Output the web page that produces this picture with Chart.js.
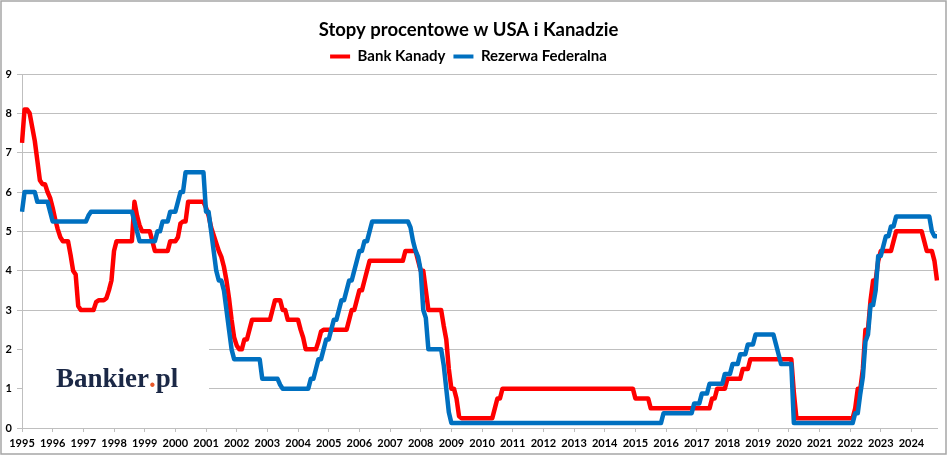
<!DOCTYPE html>
<html>
<head>
<meta charset="utf-8">
<script src="https://cdn.jsdelivr.net/npm/chart.js@4.4.1/dist/chart.umd.min.js"></script>
<style>
  html, body { margin: 0; padding: 0; background: #ffffff; }
  #wrap { width: 948px; height: 456px; position: relative; }
</style>
</head>
<body>
<div id="wrap"><canvas id="chart"></canvas></div>
<script>
// ---- tick labels / categories ----
const years = [1995, 1996, 1997, 1998, 1999, 2000, 2001, 2002, 2003, 2004,
               2005, 2006, 2007, 2008, 2009, 2010, 2011, 2012, 2013, 2014,
               2015, 2016, 2017, 2018, 2019, 2020, 2021, 2022, 2023, 2024];
const monthCodes = ['01','02','03','04','05','06','07','08','09','10','11','12'];
const yTicks = [0, 1, 2, 3, 4, 5, 6, 7, 8, 9];

const seriesNames = ['Bank Kanady', 'Rezerwa Federalna'];

// ---- monthly values, Jan 1995 .. Nov 2024 ----
const bankKanady = [
  7.25, 8.1, 8.1, 8.0, 7.65, 7.3, 6.8, 6.3, 6.2, 6.2, 6.0, 5.85,        // 1995
  5.6, 5.3, 5.05, 4.85, 4.75, 4.75, 4.75, 4.4, 4.0, 3.9, 3.1, 3.0,      // 1996
  3.0, 3.0, 3.0, 3.0, 3.0, 3.2, 3.25, 3.25, 3.25, 3.3, 3.5, 3.75,       // 1997
  4.5, 4.75, 4.75, 4.75, 4.75, 4.75, 4.75, 4.75, 5.75, 5.4, 5.15, 5.0,  // 1998
  5.0, 5.0, 5.0, 4.75, 4.5, 4.5, 4.5, 4.5, 4.5, 4.5, 4.75, 4.75,        // 1999
  4.75, 4.85, 5.2, 5.25, 5.25, 5.75, 5.75, 5.75, 5.75, 5.75, 5.75, 5.75,// 2000
  5.6, 5.4, 5.1, 4.9, 4.7, 4.5, 4.35, 4.1, 3.75, 3.3, 2.75, 2.3,        // 2001
  2.1, 2.0, 2.0, 2.25, 2.25, 2.5, 2.75, 2.75, 2.75, 2.75, 2.75, 2.75,   // 2002
  2.75, 2.75, 3.0, 3.25, 3.25, 3.25, 3.0, 3.0, 2.75, 2.75, 2.75, 2.75,  // 2003
  2.75, 2.5, 2.3, 2.0, 2.0, 2.0, 2.0, 2.0, 2.2, 2.45, 2.5, 2.5,         // 2004
  2.5, 2.5, 2.5, 2.5, 2.5, 2.5, 2.5, 2.5, 2.75, 3.0, 3.0, 3.25,         // 2005
  3.5, 3.5, 3.75, 4.0, 4.25, 4.25, 4.25, 4.25, 4.25, 4.25, 4.25, 4.25,  // 2006
  4.25, 4.25, 4.25, 4.25, 4.25, 4.25, 4.5, 4.5, 4.5, 4.5, 4.5, 4.25,    // 2007
  4.0, 4.0, 3.5, 3.0, 3.0, 3.0, 3.0, 3.0, 3.0, 2.6, 2.25, 1.5,          // 2008
  1.0, 1.0, 0.75, 0.3, 0.25, 0.25, 0.25, 0.25, 0.25, 0.25, 0.25, 0.25,  // 2009
  0.25, 0.25, 0.25, 0.25, 0.25, 0.5, 0.75, 0.75, 1.0, 1.0, 1.0, 1.0,    // 2010
  1.0, 1.0, 1.0, 1.0, 1.0, 1.0, 1.0, 1.0, 1.0, 1.0, 1.0, 1.0,           // 2011
  1.0, 1.0, 1.0, 1.0, 1.0, 1.0, 1.0, 1.0, 1.0, 1.0, 1.0, 1.0,           // 2012
  1.0, 1.0, 1.0, 1.0, 1.0, 1.0, 1.0, 1.0, 1.0, 1.0, 1.0, 1.0,           // 2013
  1.0, 1.0, 1.0, 1.0, 1.0, 1.0, 1.0, 1.0, 1.0, 1.0, 1.0, 1.0,           // 2014
  0.75, 0.75, 0.75, 0.75, 0.75, 0.75, 0.5, 0.5, 0.5, 0.5, 0.5, 0.5,     // 2015
  0.5, 0.5, 0.5, 0.5, 0.5, 0.5, 0.5, 0.5, 0.5, 0.5, 0.5, 0.5,           // 2016
  0.5, 0.5, 0.5, 0.5, 0.5, 0.5, 0.75, 0.75, 1.0, 1.0, 1.0, 1.0,         // 2017
  1.25, 1.25, 1.25, 1.25, 1.25, 1.25, 1.5, 1.5, 1.5, 1.75, 1.75, 1.75,  // 2018
  1.75, 1.75, 1.75, 1.75, 1.75, 1.75, 1.75, 1.75, 1.75, 1.75, 1.75, 1.75, // 2019
  1.75, 1.75, 0.9, 0.25, 0.25, 0.25, 0.25, 0.25, 0.25, 0.25, 0.25, 0.25,  // 2020
  0.25, 0.25, 0.25, 0.25, 0.25, 0.25, 0.25, 0.25, 0.25, 0.25, 0.25, 0.25, // 2021
  0.25, 0.25, 0.5, 1.0, 1.0, 1.5, 2.5, 2.5, 3.25, 3.75, 3.75, 4.25,     // 2022
  4.5, 4.5, 4.5, 4.5, 4.5, 4.75, 5.0, 5.0, 5.0, 5.0, 5.0, 5.0,          // 2023
  5.0, 5.0, 5.0, 5.0, 5.0, 4.75, 4.5, 4.5, 4.5, 4.25, 3.75              // 2024
];

const rezerwaFederalna = [
  5.5, 6.0, 6.0, 6.0, 6.0, 6.0, 5.75, 5.75, 5.75, 5.75, 5.75, 5.5,      // 1995
  5.25, 5.25, 5.25, 5.25, 5.25, 5.25, 5.25, 5.25, 5.25, 5.25, 5.25, 5.25, // 1996
  5.25, 5.25, 5.4, 5.5, 5.5, 5.5, 5.5, 5.5, 5.5, 5.5, 5.5, 5.5,         // 1997
  5.5, 5.5, 5.5, 5.5, 5.5, 5.5, 5.5, 5.5, 5.25, 5.0, 4.75, 4.75,        // 1998
  4.75, 4.75, 4.75, 4.75, 4.75, 5.0, 5.0, 5.25, 5.25, 5.25, 5.5, 5.5,   // 1999
  5.5, 5.75, 6.0, 6.0, 6.5, 6.5, 6.5, 6.5, 6.5, 6.5, 6.5, 6.5,          // 2000
  5.5, 5.5, 5.0, 4.5, 4.0, 3.75, 3.75, 3.5, 3.0, 2.5, 2.0, 1.75,        // 2001
  1.75, 1.75, 1.75, 1.75, 1.75, 1.75, 1.75, 1.75, 1.75, 1.75, 1.25, 1.25, // 2002
  1.25, 1.25, 1.25, 1.25, 1.25, 1.1, 1.0, 1.0, 1.0, 1.0, 1.0, 1.0,      // 2003
  1.0, 1.0, 1.0, 1.0, 1.0, 1.25, 1.25, 1.5, 1.75, 1.75, 2.0, 2.25,      // 2004
  2.25, 2.5, 2.75, 2.75, 3.0, 3.25, 3.25, 3.5, 3.75, 3.75, 4.0, 4.25,   // 2005
  4.5, 4.5, 4.75, 4.75, 5.0, 5.25, 5.25, 5.25, 5.25, 5.25, 5.25, 5.25,  // 2006
  5.25, 5.25, 5.25, 5.25, 5.25, 5.25, 5.25, 5.25, 5.1, 4.75, 4.5, 4.35, // 2007
  4.0, 3.0, 2.8, 2.0, 2.0, 2.0, 2.0, 2.0, 2.0, 1.6, 1.0, 0.4,           // 2008
  0.125, 0.125, 0.125, 0.125, 0.125, 0.125, 0.125, 0.125, 0.125, 0.125, 0.125, 0.125, // 2009
  0.125, 0.125, 0.125, 0.125, 0.125, 0.125, 0.125, 0.125, 0.125, 0.125, 0.125, 0.125, // 2010
  0.125, 0.125, 0.125, 0.125, 0.125, 0.125, 0.125, 0.125, 0.125, 0.125, 0.125, 0.125, // 2011
  0.125, 0.125, 0.125, 0.125, 0.125, 0.125, 0.125, 0.125, 0.125, 0.125, 0.125, 0.125, // 2012
  0.125, 0.125, 0.125, 0.125, 0.125, 0.125, 0.125, 0.125, 0.125, 0.125, 0.125, 0.125, // 2013
  0.125, 0.125, 0.125, 0.125, 0.125, 0.125, 0.125, 0.125, 0.125, 0.125, 0.125, 0.125, // 2014
  0.125, 0.125, 0.125, 0.125, 0.125, 0.125, 0.125, 0.125, 0.125, 0.125, 0.125, 0.375, // 2015
  0.375, 0.375, 0.375, 0.375, 0.375, 0.375, 0.375, 0.375, 0.375, 0.375, 0.375, 0.625, // 2016
  0.625, 0.625, 0.875, 0.875, 0.875, 1.125, 1.125, 1.125, 1.125, 1.125, 1.125, 1.375, // 2017
  1.375, 1.375, 1.625, 1.625, 1.625, 1.875, 1.875, 1.875, 2.125, 2.125, 2.125, 2.375, // 2018
  2.375, 2.375, 2.375, 2.375, 2.375, 2.375, 2.375, 2.125, 1.875, 1.625, 1.625, 1.625, // 2019
  1.625, 1.625, 0.125, 0.125, 0.125, 0.125, 0.125, 0.125, 0.125, 0.125, 0.125, 0.125, // 2020
  0.125, 0.125, 0.125, 0.125, 0.125, 0.125, 0.125, 0.125, 0.125, 0.125, 0.125, 0.125, // 2021
  0.125, 0.125, 0.375, 0.375, 0.875, 1.3, 2.2, 2.375, 3.125, 3.125, 3.5, 4.375,      // 2022
  4.375, 4.625, 4.875, 4.875, 5.125, 5.125, 5.375, 5.375, 5.375, 5.375, 5.375, 5.375, // 2023
  5.375, 5.375, 5.375, 5.375, 5.375, 5.375, 5.375, 5.375, 5.0, 4.875, 4.875           // 2024
];

const seriesColors = ['#ff0000', '#0070c0'];

// monthly categories built from the year list
const categories = [];
years.forEach(y => monthCodes.forEach(m => categories.push(y + '-' + m)));
categories.length = bankKanady.length;

const FONT = 'Lato, "Open Sans", "DejaVu Sans", sans-serif';

const pagePlugin = {
  id: 'page',
  beforeDraw(chart) {
    const c = chart.ctx;
    c.save();
    c.fillStyle = '#ffffff';
    c.fillRect(0, 0, chart.width, chart.height);
    c.restore();
  },
  beforeDatasetsDraw(chart) {
    const c = chart.ctx;
    const a = chart.chartArea;
    c.save();
    // white panel behind the logo (hides grid lines there)
    c.fillStyle = '#ffffff';
    c.fillRect(a.left + 1, 322, 186, 100);
    c.font = 'bold 27px "Liberation Serif", "DejaVu Serif", serif';
    c.textBaseline = 'alphabetic';
    c.textAlign = 'left';
    let x = 56;
    const yb = 387;
    c.fillStyle = '#1b2846';
    c.fillText('Bankier', x, yb);
    x += c.measureText('Bankier').width;
    c.fillStyle = '#e8582a';
    c.fillText('.', x, yb);
    x += c.measureText('.').width;
    c.fillStyle = '#1b2846';
    c.fillText('pl', x, yb);
    c.restore();
  },
  afterDraw(chart) {
    const c = chart.ctx;
    c.save();
    c.strokeStyle = '#a6a6a6';
    c.lineWidth = 1.5;
    c.strokeRect(1, 1, chart.width - 3, chart.height - 3);
    c.restore();
  }
};

new Chart(document.getElementById('chart'), {
  type: 'line',
  data: {
    labels: categories,
    datasets: [
      {
        label: seriesNames[0],
        data: bankKanady,
        borderColor: seriesColors[0],
        backgroundColor: seriesColors[0],
        borderWidth: 4.5,
        pointRadius: 0,
        pointHoverRadius: 0,
        tension: 0,
        borderJoinStyle: 'round',
        order: 1
      },
      {
        label: seriesNames[1],
        data: rezerwaFederalna,
        borderColor: seriesColors[1],
        backgroundColor: seriesColors[1],
        borderWidth: 4.5,
        pointRadius: 0,
        pointHoverRadius: 0,
        tension: 0,
        borderJoinStyle: 'round',
        order: 0
      }
    ]
  },
  options: {
    responsive: true,
    maintainAspectRatio: false,
    animation: false,
    devicePixelRatio: 1,
    layout: { padding: { left: 0, right: 11, top: 0, bottom: 0 } },
    plugins: {
      title: {
        display: true,
        text: 'Stopy procentowe w USA i Kanadzie',
        color: '#000000',
        font: { family: FONT, size: 18.5, weight: 'bold' },
        padding: { top: 6, bottom: 0 }
      },
      legend: {
        display: true,
        position: 'top',
        labels: {
          color: '#000000',
          font: { family: FONT, size: 15, weight: 'bold' },
          boxWidth: 20,
          boxHeight: 4,
          padding: 8,
          sort: (a, b) => a.datasetIndex - b.datasetIndex,
          generateLabels: (chart) => {
            const items = Chart.defaults.plugins.legend.labels.generateLabels(chart);
            items.forEach(it => { it.lineWidth = 0; it.strokeStyle = it.fillStyle; });
            return items;
          }
        }
      },
      tooltip: { enabled: false }
    },
    scales: {
      x: {
        type: 'category',
        offset: false,
        grid: {
          drawOnChartArea: false,
          drawTicks: true,
          tickLength: 4,
          color: (ctx) => (ctx.index % 12 === 0 ? '#bfbfbf' : 'rgba(0,0,0,0)')
        },
        border: { color: '#bfbfbf', width: 1 },
        ticks: {
          autoSkip: false,
          maxRotation: 0,
          minRotation: 0,
          padding: 5,
          color: '#000000',
          font: { family: FONT, size: 11, weight: 'bold' },
          callback: (value, index) => (index % 12 === 0 ? String(years[index / 12]) : '')
        },
        afterFit: (scale) => { scale.height = 28; }
      },
      y: {
        min: yTicks[0],
        max: yTicks[yTicks.length - 1],
        grid: { color: '#bfbfbf', lineWidth: 1, tickLength: 5 },
        border: { color: '#bfbfbf', width: 1 },
        ticks: {
          stepSize: 1,
          padding: 5,
          color: '#000000',
          font: { family: FONT, size: 11, weight: 'bold' }
        },
        afterFit: (scale) => { scale.width = 22; scale.paddingTop = 74; }
      }
    }
  },
  plugins: [pagePlugin]
});
</script>
</body>
</html>
